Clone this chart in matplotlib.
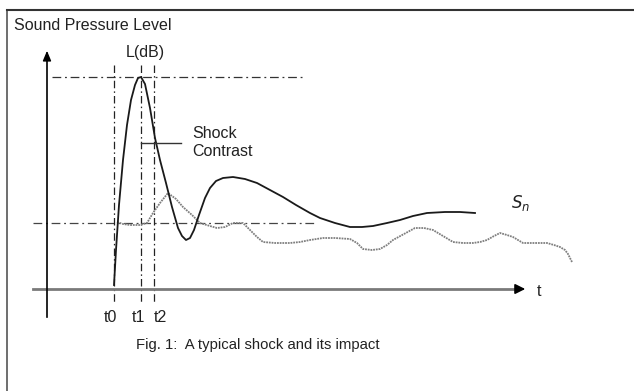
import matplotlib.pyplot as plt

plt.rcParams["font.family"] = ["Liberation Sans", "DejaVu Sans"]

# schematic drawn in picture units: x to the right, y downwards
shock_x = [114, 116, 119, 123, 127, 131, 135, 138, 141, 145, 150, 155, 160, 166, 172,
           178, 182, 186, 190, 194, 199, 205, 210, 216, 223, 233, 245, 257, 270, 283,
           296, 310, 320, 335, 350, 362, 373, 387, 400, 413, 427, 445, 460, 475]
shock_y = [285, 250, 205, 160, 125, 100, 85, 78, 77, 84, 108, 138, 160, 183, 207,
           228, 236, 240, 238, 230, 215, 198, 188, 181, 178, 177, 179, 183, 190, 197,
           205, 213, 218, 223, 227, 227, 226, 223, 220, 216, 213, 212, 212, 213]

impact_x = [117, 123, 130, 140, 147, 153, 160, 168, 176, 183, 192, 200, 210, 217, 225,
            233, 243, 250, 257, 263, 275, 290, 300, 310, 323, 335, 350, 357, 363, 372,
            380, 387, 393, 404, 415, 424, 433, 443, 453, 463, 473, 480, 487, 494, 500,
            507, 513, 518, 523, 535, 547, 554, 560, 565, 568, 572]
impact_y = [222, 224, 225, 225, 223, 213, 203, 193, 199, 207, 215, 223, 226, 228, 227,
            223, 223, 230, 237, 242, 243, 243, 242, 240, 238, 238, 239, 243, 249, 250,
            249, 245, 240, 234, 228, 228, 230, 236, 242, 243, 243, 242, 240, 236, 233,
            235, 237, 240, 243, 243, 243, 245, 247, 250, 254, 262]

marker_t = [114, 141, 154]
marker_names = ["t0", "t1", "t2"]
marker_label_x = [110, 138, 160]
peak_level = 77
base_level = 223

fig = plt.figure(figsize=(6.34, 3.91), dpi=100)
ax = fig.add_axes([0, 0, 1, 1])
ax.set_xlim(0, 634)
ax.set_ylim(391, 0)
ax.axis("off")

# frame of the figure box
ax.plot([7, 7], [391, 10], color="#555555", lw=1.2)
ax.plot([7, 634], [10, 10], color="#333333", lw=1.5)

dashdot = (0, (7, 3, 1.5, 3))
ax.hlines(peak_level, 52, 302, color="#333333", lw=0.9, linestyles=[dashdot])
ax.hlines(base_level, 33, 314, color="#444444", lw=0.9, linestyles=[dashdot])
ax.vlines(marker_t, 65, 303, color="#222222", lw=0.9,
          linestyles=[(0, (6, 2.5, 1.2, 2.5))])

# axes with arrows
ax.plot([33, 519], [289, 289], color="#7a7a7a", lw=2.0)
ax.annotate("", xy=(528, 289), xytext=(515, 289),
            arrowprops=dict(arrowstyle="-|>,head_length=0.6,head_width=0.3",
                            color="black", lw=1.2))
ax.plot([47, 47], [317, 58], color="black", lw=1.2)
ax.annotate("", xy=(47, 48), xytext=(47, 62),
            arrowprops=dict(arrowstyle="-|>,head_length=0.6,head_width=0.25",
                            color="black", lw=1.0))

ax.plot(impact_x, impact_y, color="#7f7f7f", lw=1.3, ls=(0, (1, 0.5)))
ax.plot(shock_x, shock_y, color="#1a1a1a", lw=1.3)

# annotation line for the shock contrast
ax.plot([141, 181], [143, 143], color="#333333", lw=1.0)

txt = dict(color="#222222", fontsize=11.5)
ax.text(14, 25, "Sound Pressure Level", va="center", ha="left", **txt)
ax.text(145, 53, "L(dB)", va="center", ha="center", **txt)
ax.text(192, 133, "Shock", va="center", ha="left", **txt)
ax.text(192, 152, "Contrast", va="center", ha="left", **txt)
ax.text(539, 292, "t", va="center", ha="center", **txt)
for name, lx in zip(marker_names, marker_label_x):
    ax.text(lx, 318, name, va="center", ha="center", **txt)
ax.text(258, 345, "Fig. 1:  A typical shock and its impact", va="center",
        ha="center", color="#222222", fontsize=10.7)
ax.text(521, 203, r"$S_n$", va="center", ha="center", fontsize=12,
        family="DejaVu Serif", color="#222222")

fig.savefig("out.png", dpi=100)
